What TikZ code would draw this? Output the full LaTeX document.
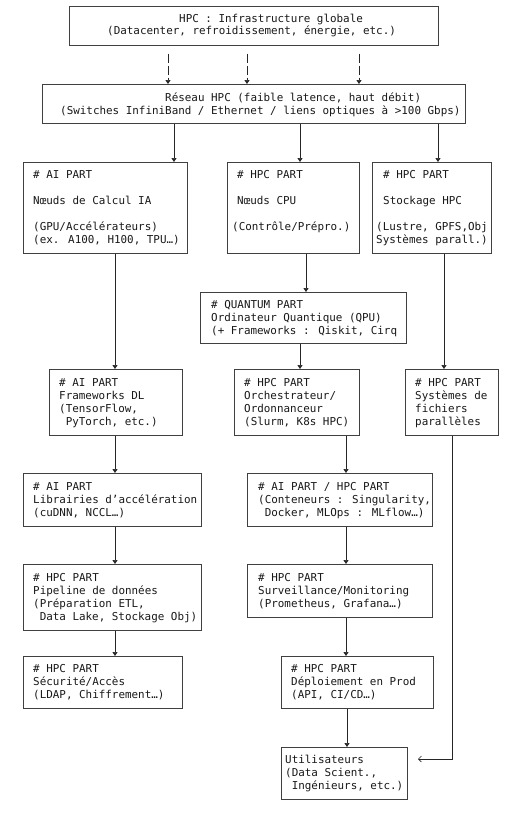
\documentclass[tikz,border=0pt]{standalone}
\usepackage{fontspec}
\setmainfont{DejaVu Sans Mono}
\usetikzlibrary{arrows.meta}
\tikzset{
  boxnode/.style={draw=black!75, line width=0.6pt, inner sep=0pt, anchor=north west},
  txt/.style={inner sep=0pt, anchor=base west, font=\fontsize{10.9pt}{13pt}\selectfont, text=black!90},
  arr/.style={draw=black!85, line width=0.6pt, -{Triangle[width=5pt,length=4pt]}},
  darr/.style={arr, dash pattern=on 9pt off 3pt, shorten <=8pt},
  barb/.style={draw=black!85, line width=0.6pt, -{Straight Barb[length=3pt,width=6pt]}},
}
\newcommand\mybox[5]{\node[boxnode, minimum width=#4pt, minimum height=#5pt] (#1) at (#2,#3) {};}
\newcommand\mytxt[4]{\node[txt] (#1) at (#2,#3) {\begin{tabular}[t]{@{}l@{}}#4\end{tabular}};}
\begin{document}
\begin{tikzpicture}[x=1pt,y=-1pt]
\fill[white] (0,0) rectangle (525,827);
\useasboundingbox (0,0) rectangle (525,827);
% boxes
\mybox{top}{69}{6}{369}{39}
\mybox{net}{42}{84}{423}{39}
\mybox{ai1}{23}{162}{164}{91}
\mybox{cpu}{227}{162}{132}{91}
\mybox{sto}{372}{162}{119}{91}
\mybox{qpu}{200}{292}{206}{51}
\mybox{fdl}{49}{369}{133}{66}
\mybox{orc}{234}{369}{125}{66}
\mybox{sys}{405}{369}{93}{66}
\mybox{lib}{23}{473}{178}{53}
\mybox{con}{247}{473}{185}{53}
\mybox{pip}{23}{564}{178}{66}
\mybox{sur}{247}{564}{185}{53}
\mybox{sec}{23}{656}{159}{52}
\mybox{dep}{281}{656}{152}{52}
\mybox{usr}{281}{747}{126}{52}
% texts
\mytxt{topt}{107}{22}{\hspace*{72pt}HPC : Infrastructure globale\\(Datacenter, refroidissement, énergie, etc.)}
\mytxt{nett}{60}{101}{\hspace*{105pt}Réseau HPC (faible latence, haut débit)\\(Switches InfiniBand / Ethernet / liens optiques à >100 Gbps)}
\mytxt{ai1t}{33}{178}{\# AI PART\\ \\Nœuds de Calcul IA\\ \\(GPU/Accélérateurs)\\(ex. A100, H100, TPU…)}
\mytxt{cput}{232}{178}{\hspace*{5pt}\# HPC PART\\ \\\hspace*{5pt}Nœuds CPU\\ \\(Contrôle/Prépro.)}
\mytxt{stot}{376}{178}{\hspace*{7pt}\# HPC PART\\ \\\hspace*{7pt}Stockage HPC\\ \\(Lustre, GPFS,Obj\\Systèmes parall.)}
\mytxt{qput}{211}{308}{\# QUANTUM PART\\Ordinateur Quantique (QPU)\\(+ Frameworks : Qiskit, Cirq}
\mytxt{fdlt}{59}{386}{\# AI PART\\Frameworks DL\\(TensorFlow,\\\hspace*{6.55pt}PyTorch, etc.)}
\mytxt{orct}{244}{386}{\# HPC PART\\Orchestrateur/\\Ordonnanceur\\(Slurm, K8s HPC)}
\mytxt{syst}{415}{386}{\# HPC PART\\Systèmes de\\fichiers\\parallèles}
\mytxt{libt}{33}{490}{\# AI PART\\Librairies d’accélération\\(cuDNN, NCCL…)}
\mytxt{cont}{258}{490}{\# AI PART / HPC PART\\(Conteneurs : Singularity,\\\hspace*{6.55pt}Docker, MLOps : MLflow…)}
\mytxt{pipt}{33}{581}{\# HPC PART\\Pipeline de données\\(Préparation ETL,\\\hspace*{6.55pt}Data Lake, Stockage Obj)}
\mytxt{surt}{258}{581}{\# HPC PART\\Surveillance/Monitoring\\(Prometheus, Grafana…)}
\mytxt{sect}{33}{672}{\# HPC PART\\Sécurité/Accès\\(LDAP, Chiffrement…)}
\mytxt{dept}{291}{672}{\# HPC PART\\Déploiement en Prod\\(API, CI/CD…)}
\mytxt{usrt}{285}{763}{Utilisateurs\\(Data Scient.,\\\hspace*{6.55pt}Ingénieurs, etc.)}
% x positions of connectors
\coordinate (xa) at (168,0);
\coordinate (xb) at (247,0);
\coordinate (xc) at (359,0);
\coordinate (xd) at (174,0);
\coordinate (xe) at (300,0);
\coordinate (xf) at (438,0);
\coordinate (xg) at (115,0);
\coordinate (xh) at (306,0);
\coordinate (xi) at (346,0);
\coordinate (xj) at (347,0);
\coordinate (xk) at (444,0);
\coordinate (xl) at (452,0);
\coordinate (usrin) at (418,759);
% connectors
\draw[darr] (top.south -| xa) -- (net.north -| xa);
\draw[darr] (top.south -| xb) -- (net.north -| xb);
\draw[darr] (top.south -| xc) -- (net.north -| xc);
\draw[arr] (net.south -| xd) -- (ai1.north -| xd);
\draw[arr] (net.south -| xe) -- (cpu.north -| xe);
\draw[arr] (net.south -| xf) -- (sto.north -| xf);
\draw[arr] (ai1.south -| xg) -- (fdl.north -| xg);
\draw[arr] (fdl.south -| xg) -- (lib.north -| xg);
\draw[arr] (lib.south -| xg) -- (pip.north -| xg);
\draw[arr] (pip.south -| xg) -- (sec.north -| xg);
\draw[arr] (cpu.south -| xh) -- (qpu.north -| xh);
\draw[arr] (qpu.south -| xe) -- (orc.north -| xe);
\draw[arr] (orc.south -| xi) -- (con.north -| xi);
\draw[arr] (con.south -| xi) -- (sur.north -| xi);
\draw[arr] (sur.south -| xi) -- (dep.north -| xi);
\draw[arr] (dep.south -| xj) -- (usr.north -| xj);
\draw[arr] (sto.south -| xk) -- (sys.north -| xk);
\draw[barb] (sys.south -| xl) |- (usrin);
\end{tikzpicture}
\end{document}
